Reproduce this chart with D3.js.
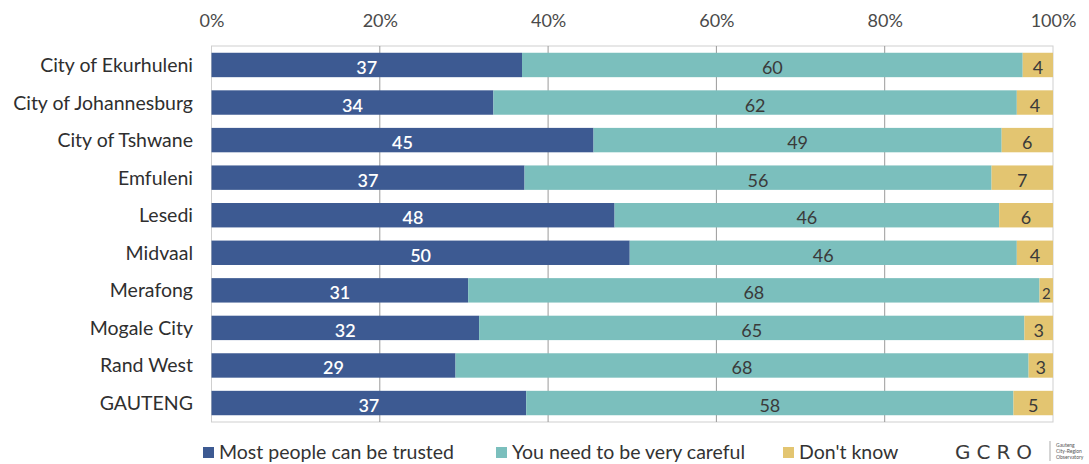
<!DOCTYPE html>
<html>
<head>
<meta charset="utf-8">
<script src="https://cdn.jsdelivr.net/npm/d3@7"></script>
<style>
  html, body { margin: 0; padding: 0; background: #fff; }
  svg { display: block; font-family: Lato, "Open Sans", sans-serif; }
</style>
</head>
<body>
<svg id="chart" width="1089" height="464"></svg>
<script>
const categories = ["City of Ekurhuleni", "City of Johannesburg", "City of Tshwane", "Emfuleni", "Lesedi", "Midvaal", "Merafong", "Mogale City", "Rand West", "GAUTENG"];
const trusted  = [36.9, 33.5, 45.4, 37.2, 47.9, 49.7, 30.5, 31.8, 29.0, 37.4];
const careful  = [59.5, 62.2, 48.5, 55.5, 45.7, 46.0, 67.9, 64.8, 68.1, 57.9];
const dontKnow = [3.6, 4.3, 6.1, 7.3, 6.4, 4.3, 1.6, 3.4, 2.9, 4.7];
const seriesNames = ["Most people can be trusted", "You need to be very careful", "Don't know"];
const seriesColors = ["#3d5a92", "#7bbfbd", "#e3c571"];
const labelColors = ["#ffffff", "#3a3a3a", "#3a3a3a"];
const tickValues = [0, 20, 40, 60, 80, 100];

const svg = d3.select("#chart");
const margin = { left: 211.5, right: 36, top: 46, bottom: 42 };
const W = 1089, H = 464;

const x = d3.scaleLinear().domain([0, 100]).range([margin.left, W - margin.right]);
const y = d3.scaleBand().domain(categories).range([margin.top, H - margin.bottom])
  .paddingInner(0.35).paddingOuter(0.18);

const rows = categories.map((c, i) => ({ cat: c, v: [trusted[i], careful[i], dontKnow[i]] }));

// plot frame
svg.append("rect")
  .attr("x", x(0)).attr("y", margin.top)
  .attr("width", x(100) - x(0)).attr("height", H - margin.bottom - margin.top)
  .attr("fill", "none").attr("stroke", "#cfcfcf").attr("stroke-width", 1);

// gridlines
svg.append("g").selectAll("line").data(tickValues.slice(1, -1)).join("line")
  .attr("x1", d => x(d)).attr("x2", d => x(d))
  .attr("y1", margin.top).attr("y2", H - margin.bottom)
  .attr("stroke", "#9a9a9a").attr("stroke-width", 1);

// top axis
const axis = d3.axisTop(x).tickValues(tickValues).tickFormat(d => d + "%").tickSize(0).tickPadding(0);
const ag = svg.append("g").attr("transform", `translate(0, 27)`).call(axis);
ag.select(".domain").remove();
ag.selectAll("text").attr("font-size", 18).attr("fill", "#4a4a4a")
  .attr("font-family", "Lato, sans-serif").attr("dy", "0");

// bars
const g = svg.append("g");
rows.forEach(r => {
  let acc = 0;
  r.v.forEach((v, k) => {
    const x0 = x(acc), x1 = x(acc + v);
    g.append("rect")
      .attr("x", x0).attr("y", y(r.cat))
      .attr("width", x1 - x0).attr("height", y.bandwidth())
      .attr("fill", seriesColors[k]);
    const lbl = Math.round(v);
    g.append("text")
      .attr("x", (x0 + x1) / 2)
      .attr("y", y(r.cat) + y.bandwidth() / 2 + 9)
      .attr("text-anchor", "middle")
      .attr("font-size", lbl < 3 ? 15 : 18)
      .attr("font-weight", k === 0 ? 600 : "normal")
      .attr("fill", labelColors[k])
      .text(lbl);
    acc += v;
  });
});

// category labels
svg.append("g").selectAll("text").data(categories).join("text")
  .attr("x", 193)
  .attr("y", d => y(d) + y.bandwidth() / 2 + 7)
  .attr("text-anchor", "end")
  .attr("font-size", 19.5)
  .attr("fill", "#2f2f2f")
  .text(d => d);

// legend
const legendX = [203, 496, 783];
const lg = svg.append("g");
seriesNames.forEach((n, k) => {
  lg.append("rect").attr("x", legendX[k]).attr("y", 447).attr("width", 11).attr("height", 11)
    .attr("fill", seriesColors[k]);
  lg.append("text").attr("x", legendX[k] + 16).attr("y", 459)
    .attr("font-size", 19.5).attr("fill", "#333").text(n);
});

// GCRO logo
const logo = svg.append("g");
logo.append("text").attr("x", 955).attr("y", 459)
  .attr("font-size", 20).attr("font-family", "'DejaVu Sans', sans-serif")
  .attr("letter-spacing", 6).attr("fill", "#3a3a3a").attr("font-weight", "normal")
  .text("GCRO");
logo.append("line").attr("x1", 1050).attr("x2", 1050).attr("y1", 441).attr("y2", 461)
  .attr("stroke", "#888").attr("stroke-width", 0.7);
["Gauteng", "City-Region", "Observatory"].forEach((t, i) => {
  logo.append("text").attr("x", 1056).attr("y", 447 + i * 6)
    .attr("font-size", 5).attr("fill", "#555").text(t);
});
</script>
</body>
</html>
